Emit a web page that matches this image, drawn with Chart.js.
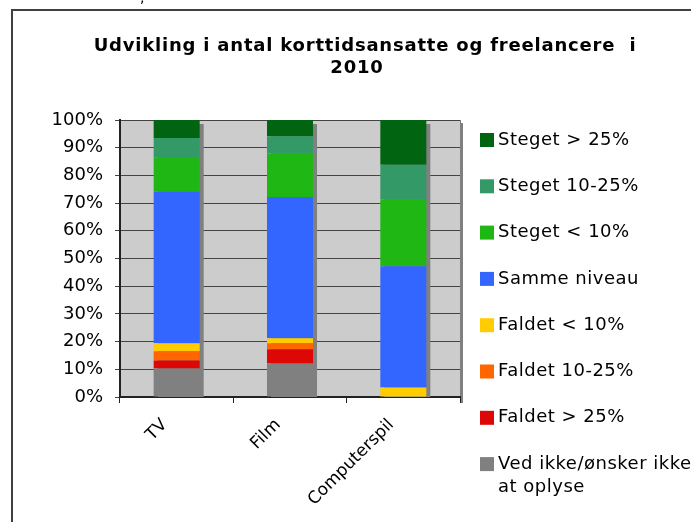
<!DOCTYPE html>
<html>
<head>
<meta charset="utf-8">
<script src="https://cdn.jsdelivr.net/npm/chart.js@4.4.1/dist/chart.umd.min.js"></script>
<style>
    body { margin: 0; background: #ffffff; }
    #wrap { width: 691px; height: 522px; position: relative; overflow: hidden; }
</style>
</head>
<body>
<div id="wrap"><canvas id="chart" width="691" height="522"></canvas></div>
<script>
// --- Data ---
const categories = ['TV', 'Film', 'Computerspil'];
const titleLines = ['Udvikling i antal korttidsansatte og freelancere  i', '2010'];
const yTicks = [0, 10, 20, 30, 40, 50, 60, 70, 80, 90, 100];

// series, bottom of the stack first
const vedIkke      = [10.3, 12.1, 0];
const faldetOver25 = [2.9, 5.1, 0];
const faldet10til25 = [3.3, 2.2, 0];
const faldetUnder10 = [2.9, 1.8, 3.4];
const sammeNiveau  = [54.7, 51.0, 43.8];
const stegetUnder10 = [12.3, 15.7, 24.2];
const steget10til25 = [7.1, 6.2, 12.4];
const stegetOver25 = [6.5, 5.9, 16.2];

const seriesNames = [
    ['Ved ikke/ønsker ikke', 'at oplyse'],
    'Faldet > 25%',
    'Faldet 10-25%',
    'Faldet < 10%',
    'Samme niveau',
    'Steget < 10%',
    'Steget 10-25%',
    'Steget > 25%'
];
const seriesValues = [vedIkke, faldetOver25, faldet10til25, faldetUnder10, sammeNiveau, stegetUnder10, steget10til25, stegetOver25];
const seriesColors = ['#808080', '#dd0806', '#ff6600', '#ffcc00', '#3366ff', '#1fb714', '#339966', '#006411'];

const FONT = '"DejaVu Sans", Verdana, sans-serif';

// --- Plot area background, frame, shadows, title, legend ---
const backdropPlugin = {
    id: 'backdrop',
    beforeDraw(chart) {
        const ctx = chart.ctx;
        const a = chart.chartArea;
        ctx.save();
        // outer frame
        ctx.strokeStyle = '#404040';
        ctx.lineWidth = 2;
        ctx.strokeRect(12, 10, 800, 700);
        // stray comma from text above the frame
        ctx.fillStyle = '#000';
        ctx.font = '14px ' + FONT;
        ctx.fillText(',', 140, 2);
        // plot area shadow + fill
        ctx.fillStyle = '#808080';
        ctx.fillRect(a.right, a.top + 3, 3, a.bottom - a.top + 3);
        ctx.fillStyle = '#cccccc';
        ctx.fillRect(a.left, a.top, a.right - a.left, a.bottom - a.top);
        ctx.strokeStyle = '#808080';
        ctx.lineWidth = 1;
        ctx.strokeRect(a.left + 0.5, a.top + 0.5, a.right - a.left, a.bottom - a.top);
        ctx.restore();
    },
    beforeDatasetsDraw(chart) {
        const ctx = chart.ctx;
        const a = chart.chartArea;
        const yScale = chart.scales.y;
        const meta0 = chart.getDatasetMeta(0);
        ctx.save();
        ctx.beginPath();
        ctx.rect(a.left, a.top, a.right - a.left, a.bottom - a.top);
        ctx.clip();
        ctx.fillStyle = '#808080';
        meta0.data.forEach((bar, i) => {
            let total = 0;
            chart.data.datasets.forEach(ds => { total += ds.data[i]; });
            const top = yScale.getPixelForValue(total);
            ctx.fillRect(bar.x - bar.width / 2 + 4, top + 4, bar.width, a.bottom - top);
        });
        ctx.restore();
    },
    afterDraw(chart) {
        const ctx = chart.ctx;
        ctx.save();
        // title
        ctx.fillStyle = '#000';
        ctx.textAlign = 'center';
        ctx.textBaseline = 'middle';
        ctx.font = 'bold 18px ' + FONT;
        ctx.letterSpacing = '0.8px';
        ctx.fillText(titleLines[0], 365, 46);
        ctx.fillText(titleLines[1], 357, 68);
        // legend, top of the stack first
        ctx.textAlign = 'left';
        ctx.font = '18px ' + FONT;
        ctx.letterSpacing = '0.5px';
        const n = chart.data.datasets.length;
        for (let k = 0; k < n; k++) {
            const ds = chart.data.datasets[n - 1 - k];
            const yc = 140 + k * 46.3;
            ctx.fillStyle = ds.backgroundColor;
            ctx.fillRect(480, yc - 7, 14, 14);
            ctx.fillStyle = '#000';
            const lines = Array.isArray(ds.label) ? ds.label : [ds.label];
            lines.forEach((t, j) => ctx.fillText(t, 498, yc + j * 23));
        }
        ctx.restore();
    }
};

const ctx = document.getElementById('chart').getContext('2d');
new Chart(ctx, {
    type: 'bar',
    data: {
        labels: categories,
        datasets: seriesValues.map((vals, i) => ({
            label: seriesNames[i],
            data: vals,
            backgroundColor: seriesColors[i],
            borderWidth: 0,
            categoryPercentage: 1,
            barPercentage: 0.406
        }))
    },
    options: {
        responsive: false,
        animation: false,
        layout: { padding: { top: 120, right: 231, left: 0, bottom: 0 } },
        plugins: {
            legend: { display: false },
            title: { display: false },
            tooltip: { enabled: false }
        },
        scales: {
            x: {
                stacked: true,
                afterFit: (scale) => { scale.height = 125; },
                grid: { offset: true, drawOnChartArea: false, tickLength: 6, color: '#222', lineWidth: 1 },
                border: { color: '#222', width: 2 },
                ticks: {
                    color: '#000',
                    font: { family: FONT, size: 17 },
                    minRotation: 45,
                    maxRotation: 45,
                    padding: 12,
                    labelOffset: -12
                }
            },
            y: {
                stacked: true,
                min: 0,
                max: 100,
                afterFit: (scale) => { scale.width = 120; },
                afterBuildTicks: (scale) => { scale.ticks = yTicks.map(v => ({ value: v })); },
                grid: { color: '#444', lineWidth: 1, tickLength: 5 },
                border: { color: '#222', width: 2 },
                ticks: {
                    color: '#000',
                    font: { family: FONT, size: 18 },
                    padding: 12,
                    callback: (v) => v + '%'
                }
            }
        }
    },
    plugins: [backdropPlugin]
});
</script>
</body>
</html>
